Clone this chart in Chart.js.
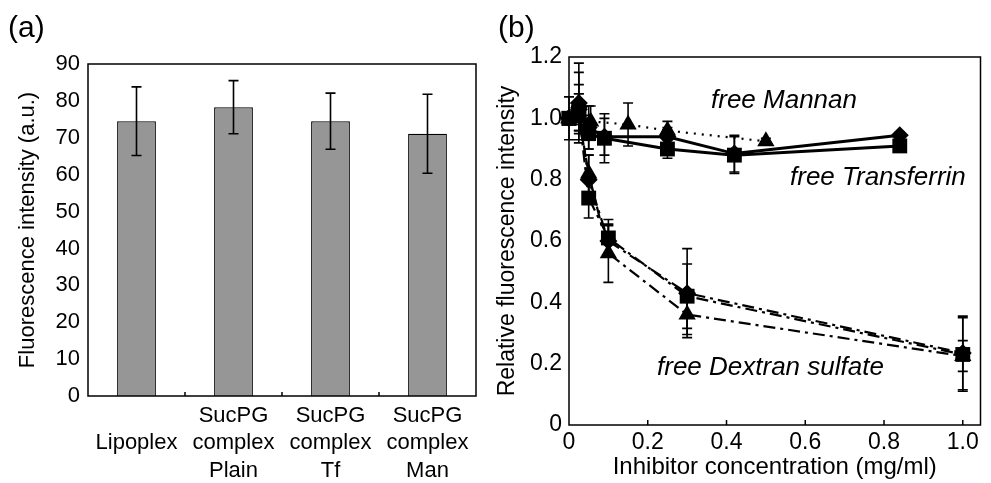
<!DOCTYPE html>
<html><head><meta charset="utf-8">
<script src="https://cdn.jsdelivr.net/npm/chart.js@4/dist/chart.umd.min.js"></script>
<style>
html,body{margin:0;padding:0;background:#fff;}
#wrap{position:relative;width:991px;height:483px;overflow:hidden;font-family:"Liberation Sans",Arial,sans-serif;background:#fff;}
canvas{position:absolute;top:0;}
.lbl{position:absolute;line-height:1;white-space:nowrap;color:#000;}
.it{font-style:italic;font-size:26px;}
</style></head><body>
<div id="wrap">
<canvas id="ca" width="500" height="483" style="left:0"></canvas>
<canvas id="cb" width="497" height="483" style="left:494px"></canvas>
<div class="lbl" style="left:8px;top:12px;font-size:30px">(a)</div>
<div class="lbl" style="left:498px;top:12px;font-size:30px">(b)</div>
<div class="lbl it" style="left:711px;top:86px">free Mannan</div>
<div class="lbl it" style="left:790px;top:163px">free Transferrin</div>
<div class="lbl it" style="left:657px;top:353px">free Dextran sulfate</div>
</div>
<script>
// ---- Panel (a) data ----
const barCategories = [['', 'Lipoplex'], ['SucPG', 'complex', 'Plain'], ['SucPG', 'complex', 'Tf'], ['SucPG', 'complex', 'Man']];
const barValues = [74.5, 78.3, 74.5, 71.1];
const barErrors = [9.3, 7.2, 7.6, 10.7];

// ---- Panel (b) data ----
const trfX = [0, 0.025, 0.05, 0.09, 0.25, 0.42, 0.84];
const trfPlainY = [1.00, 1.02, 0.95, 0.935, 0.90, 0.88, 0.91];
const trfPlainErr = [0.07, 0.09, 0.05, 0.08, 0.03, 0.06, 0.01];
const trfTfY = [1.00, 1.05, 0.97, 0.94, 0.94, 0.885, 0.945];
const trfTfErr = [0, 0.13, 0.07, 0.06, 0.03, 0.06, 0.01];

const manX = [0, 0.025, 0.055, 0.15, 0.25, 0.5];
const manManY = [1.00, 1.05, 0.99, 0.98, 0.96, 0.925];
const manManErr = [0, 0.10, 0.05, 0.07, 0.03, 0.01];

const dexX = [0, 0.025, 0.05, 0.1, 0.3, 1.0];
const dexPlainY = [1.00, 1.02, 0.74, 0.61, 0.42, 0.23];
const dexPlainErr = [0, 0.06, 0.065, 0.06, 0.105, 0.12];
const dexTfY = [1.00, 1.03, 0.80, 0.60, 0.43, 0.235];
const dexTfErr = [0, 0.05, 0.08, 0.05, 0.145, 0.12];
const dexManY = [1.00, 1.00, 0.82, 0.56, 0.36, 0.225];
const dexManErr = [0, 0.04, 0.06, 0.095, 0.065, 0.05];

const FONT = '"Liberation Sans", Arial, sans-serif';

function pts(xs, ys) { return xs.map((x, i) => ({x: x, y: ys[i]})); }

const errorBarPlugin = {
  id: 'errbars',
  afterDatasetsDraw(chart, args, opts) {
    const ctx = chart.ctx;
    const ys = chart.scales.y;
    const cap = opts.cap || 5;
    chart.data.datasets.forEach((ds, i) => {
      if (!ds.errors) return;
      const meta = chart.getDatasetMeta(i);
      meta.data.forEach((el, j) => {
        const e = ds.errors[j];
        if (!e) return;
        const raw = ds.data[j];
        const v = (typeof raw === 'object') ? raw.y : raw;
        const yt = ys.getPixelForValue(v + e), yb = ys.getPixelForValue(v - e);
        const x = el.x;
        ctx.save();
        ctx.strokeStyle = '#000';
        ctx.lineWidth = opts.width || 1.5;
        ctx.beginPath();
        ctx.moveTo(x, yt); ctx.lineTo(x, yb);
        ctx.moveTo(x - cap, yt); ctx.lineTo(x + cap, yt);
        ctx.moveTo(x - cap, yb); ctx.lineTo(x + cap, yb);
        ctx.stroke();
        ctx.restore();
      });
    });
  }
};

const boxPlugin = {
  id: 'box',
  afterDraw(chart, args, opts) {
    const ctx = chart.ctx, a = chart.chartArea;
    ctx.save();
    ctx.strokeStyle = '#000';
    ctx.lineWidth = 1.5;
    ctx.strokeRect(a.left, a.top, a.right - a.left, a.bottom - a.top);
    ctx.beginPath();
    const xs = chart.scales.x;
    if (opts.mode === 'category') {
      const n = xs.ticks.length;
      for (let i = 1; i < n; i++) {
        const px = (xs.getPixelForValue(i - 1) + xs.getPixelForValue(i)) / 2;
        ctx.moveTo(px, a.bottom); ctx.lineTo(px, a.bottom - 4);
      }
    } else {
      xs.ticks.forEach(t => {
        if (t.value === 0) return;
        const px = xs.getPixelForValue(t.value);
        ctx.moveTo(px, a.bottom); ctx.lineTo(px, a.bottom - 5);
      });
    }
    ctx.stroke();
    ctx.restore();
  }
};

new Chart(document.getElementById('ca'), {
  type: 'bar',
  data: {
    labels: barCategories,
    datasets: [{
      data: barValues,
      errors: barErrors,
      backgroundColor: '#969696',
      borderColor: '#000',
      borderWidth: 1.3,
      barPercentage: 0.4,
      categoryPercentage: 1.0
    }]
  },
  options: {
    responsive: false, animation: false,
    layout: {padding: {top: 64, right: 24, left: 0, bottom: 0}},
    plugins: {legend: {display: false}, tooltip: {enabled: false}, errbars: {cap: 5, width: 1.6}, box: {mode: 'category'}},
    scales: {
      x: {
        grid: {display: false, drawTicks: false}, border: {display: false},
        ticks: {color: '#000', font: {family: FONT, size: 22, lineHeight: 1.25}, padding: 6, maxRotation: 0, autoSkip: false},
        afterFit(s) { s.height = 87; }
      },
      y: {
        min: 0, max: 90,
        grid: {display: false, drawTicks: false}, border: {display: false},
        ticks: {stepSize: 10, color: '#000', font: {family: FONT, size: 22}, padding: 8},
        title: {display: true, text: 'Fluorescence intensity (a.u.)', color: '#000', font: {family: FONT, size: 22}, padding: {top: 15, bottom: 0}},
        afterFit(s) { s.width = 88; }
      }
    }
  },
  plugins: [errorBarPlugin, boxPlugin]
});

function fmt(v) { return v === 0 ? '0' : Number(v).toFixed(1); }

function lineDs(xs, ys, errs, style, dash, width) {
  return {
    data: pts(xs, ys), errors: errs,
    showLine: true, clip: false,
    borderColor: '#000', backgroundColor: '#000',
    borderWidth: width, borderDash: dash,
    pointStyle: style,
    pointRadius: style === 'rect' ? 10.5 : (style === 'triangle' ? 10 : 9),
    pointBorderWidth: 0,
    pointBackgroundColor: '#000', pointBorderColor: '#000',
    tension: 0
  };
}

const SOLID = [], DOT = [2, 6], DASHDOT = [12, 5, 3, 5];

new Chart(document.getElementById('cb'), {
  type: 'scatter',
  data: {
    datasets: [
      lineDs(dexX, dexManY, dexManErr, 'triangle', DASHDOT, 2.2),
      lineDs(dexX, dexTfY, dexTfErr, 'rectRot', DASHDOT, 2.2),
      lineDs(dexX, dexPlainY, dexPlainErr, 'rect', DASHDOT, 2.2),
      lineDs(manX, manManY, manManErr, 'triangle', DOT, 2.2),
      lineDs(trfX, trfTfY, trfTfErr, 'rectRot', SOLID, 3),
      lineDs(trfX, trfPlainY, trfPlainErr, 'rect', SOLID, 3)
    ]
  },
  options: {
    responsive: false, animation: false,
    layout: {padding: {top: 57, right: 2, left: 0, bottom: 0}},
    plugins: {legend: {display: false}, tooltip: {enabled: false}, errbars: {cap: 5, width: 1.6}, box: {mode: 'linear'}},
    scales: {
      x: {
        type: 'linear', min: 0, max: 1.045,
        grid: {display: false, drawTicks: false}, border: {display: false},
        ticks: {stepSize: 0.2, includeBounds: false, callback: fmt, color: '#000', font: {family: FONT, size: 23}, padding: 4, maxRotation: 0},
        title: {display: true, text: 'Inhibitor concentration (mg/ml)', color: '#000', font: {family: FONT, size: 24}, padding: {top: 0, bottom: 1}},
        afterFit(s) { s.height = 58; }
      },
      y: {
        min: 0, max: 1.2,
        grid: {display: false, drawTicks: false}, border: {display: false},
        ticks: {stepSize: 0.2, callback: fmt, color: '#000', font: {family: FONT, size: 23}, padding: 7},
        title: {display: true, text: 'Relative fluorescence intensity', color: '#000', font: {family: FONT, size: 23}, padding: {top: 0, bottom: 0}},
        afterFit(s) { s.width = 75; }
      }
    }
  },
  plugins: [errorBarPlugin, boxPlugin]
});
</script>
</body></html>
